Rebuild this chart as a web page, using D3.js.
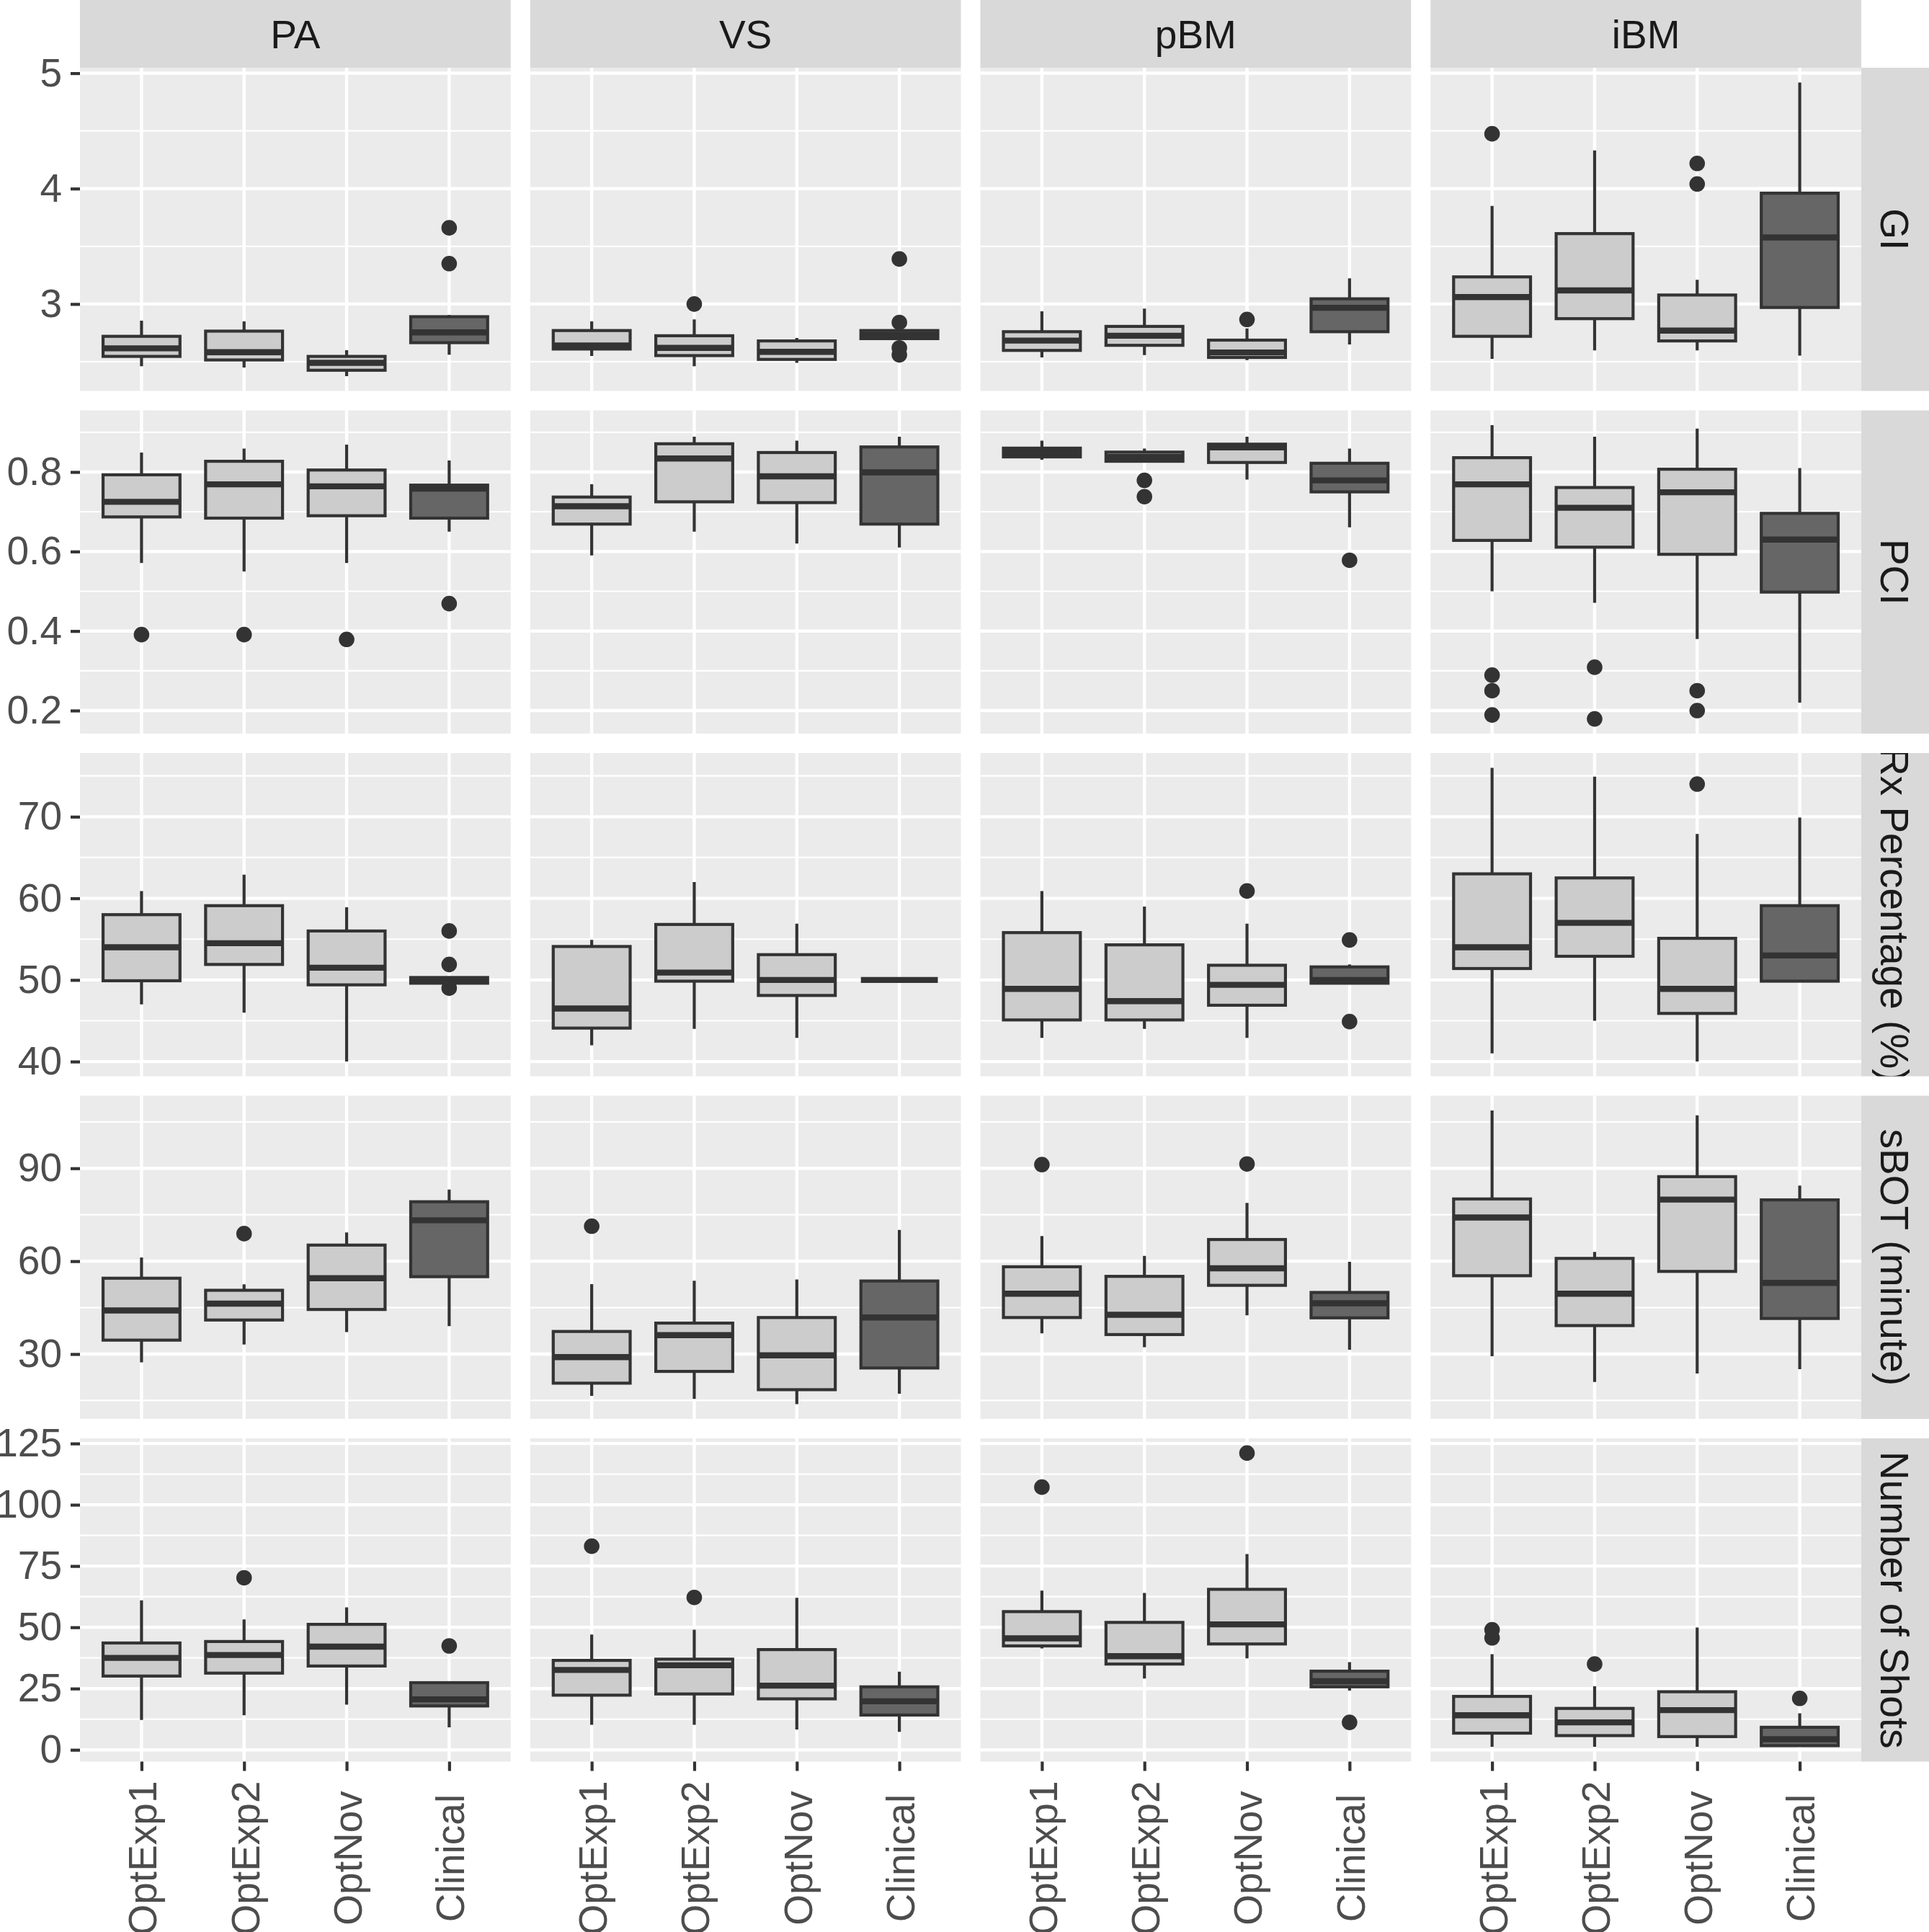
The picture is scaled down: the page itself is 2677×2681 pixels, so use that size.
<!DOCTYPE html>
<html lang="en">
<head>
  <meta charset="UTF-8">
  <title>Boxplots by site and metric</title>
  <script src="https://d3js.org/d3.v7.min.js"></script>
  <style>
    body { margin: 0; background: #fff; }
    svg { display: block; font-family: "Liberation Sans", Arial, sans-serif; }
  </style>
</head>
<body>
  <svg width="2677" height="2681"></svg>
  <script>
    const groups = ["OptExp1", "OptExp2", "OptNov", "Clinical"];
    const sites = ["PA", "VS", "pBM", "iBM"];
    const metrics = ["GI", "PCI", "Rx Percentage (%)", "sBOT (minute)", "Number of Shots"];
    const yTicks = [
      [3, 4, 5],
      [0.2, 0.4, 0.6, 0.8],
      [40, 50, 60, 70],
      [30, 60, 90],
      [0, 25, 50, 75, 100, 125]
    ];
    const tickFormats = [d3.format("d"), d3.format(".1f"), d3.format("d"), d3.format("d"), d3.format("d")];

    // each box: [lower whisker, q1, median, q3, upper whisker], per site then per group
    const giStats = [
      [[2.46, 2.546, 2.616, 2.72, 2.855], [2.45, 2.515, 2.582, 2.765, 2.85], [2.374, 2.426, 2.49, 2.546, 2.60], [2.56, 2.665, 2.754, 2.89, 2.906]],
      [[2.55, 2.61, 2.64, 2.77, 2.85], [2.46, 2.553, 2.62, 2.725, 2.866], [2.49, 2.52, 2.585, 2.68, 2.705], [2.70, 2.70, 2.73, 2.77, 2.77]],
      [[2.537, 2.598, 2.683, 2.76, 2.937], [2.558, 2.642, 2.725, 2.806, 2.96], [2.513, 2.537, 2.58, 2.687, 2.788], [2.65, 2.76, 2.967, 3.045, 3.223]],
      [[2.524, 2.72, 3.06, 3.235, 3.85], [2.598, 2.873, 3.118, 3.61, 4.33], [2.598, 2.68, 2.77, 3.078, 3.21], [2.553, 2.97, 3.577, 3.96, 4.92]]
    ];
    const giOutliers = [
      [[], [], [], [3.35, 3.66]],
      [[], [3.0], [], [2.56, 2.62, 2.84, 3.39]],
      [[], [], [2.866], []],
      [[4.475], [], [4.04, 4.218], []]
    ];

    const pciStats = [
      [[0.571, 0.687, 0.725, 0.793, 0.849], [0.55, 0.684, 0.769, 0.827, 0.859], [0.571, 0.69, 0.764, 0.805, 0.869], [0.65, 0.684, 0.758, 0.767, 0.829]],
      [[0.59, 0.669, 0.714, 0.737, 0.769], [0.65, 0.725, 0.834, 0.871, 0.889], [0.62, 0.723, 0.789, 0.849, 0.879], [0.61, 0.669, 0.799, 0.863, 0.889]],
      [[0.831, 0.838, 0.849, 0.86, 0.879], [0.827, 0.827, 0.838, 0.85, 0.859], [0.781, 0.824, 0.862, 0.87, 0.889], [0.661, 0.75, 0.779, 0.822, 0.859]],
      [[0.5, 0.628, 0.769, 0.836, 0.918], [0.471, 0.611, 0.71, 0.761, 0.889], [0.38, 0.593, 0.749, 0.807, 0.909], [0.22, 0.498, 0.63, 0.696, 0.81]]
    ];
    const pciOutliers = [
      [[0.391], [0.391], [0.379], [0.469]],
      [[], [], [], []],
      [[], [0.738, 0.779], [], [0.578]],
      [[0.189, 0.25, 0.289], [0.179, 0.309], [0.2, 0.25], []]
    ];

    const rxStats = [
      [[47.0, 49.9, 54.0, 58.0, 60.9], [46.0, 51.9, 54.5, 59.1, 62.9], [40.0, 49.4, 51.5, 56.0, 58.9], [49.6, 49.6, 50.0, 50.3, 50.3]],
      [[42.0, 44.1, 46.5, 54.1, 54.9], [44.0, 49.85, 50.9, 56.8, 62.0], [42.9, 48.1, 50.0, 53.1, 56.9], [50.0, 50.0, 50.0, 50.0, 50.0]],
      [[42.9, 45.1, 48.9, 55.8, 60.9], [44.0, 45.1, 47.4, 54.3, 59.0], [42.9, 46.9, 49.4, 51.8, 56.9], [49.6, 49.6, 50.0, 51.6, 51.9]],
      [[41.0, 51.4, 54.0, 63.0, 76.0], [45.0, 52.9, 57.0, 62.5, 74.9], [40.0, 45.9, 48.9, 55.1, 67.9], [49.85, 49.85, 53.0, 59.1, 69.9]]
    ];
    const rxOutliers = [
      [[], [], [], [49.0, 51.9, 56.0]],
      [[], [], [], []],
      [[], [], [60.9], [44.9, 54.9]],
      [[], [], [74.0], []]
    ];

    const sbotStats = [
      [[27.3, 34.5, 44.1, 54.5, 61.2], [33.1, 41.0, 46.3, 50.6, 52.5], [37.1, 44.4, 54.5, 65.2, 69.3], [39.0, 55.0, 73.2, 79.2, 83.1]],
      [[16.5, 20.6, 29.0, 37.3, 52.6], [15.5, 24.4, 36.1, 40.0, 53.7], [13.8, 18.5, 29.6, 41.8, 54.1], [17.2, 25.5, 41.8, 53.6, 70.1]],
      [[36.7, 41.8, 49.5, 58.2, 68.1], [32.2, 36.3, 42.7, 55.1, 61.7], [42.5, 52.2, 57.7, 67.0, 78.8], [31.4, 41.7, 46.4, 49.9, 59.8]],
      [[29.3, 55.3, 74.1, 80.1, 108.7], [21.0, 39.2, 49.5, 60.9, 63.0], [23.7, 56.7, 79.9, 87.3, 107.1], [25.1, 41.5, 53.0, 79.8, 84.4]]
    ];
    const sbotOutliers = [
      [[], [68.9], [], []],
      [[71.3], [], [], []],
      [[91.2], [], [91.4], []],
      [[], [], [], []]
    ];

    const shotStats = [
      [[12.2, 30.1, 37.5, 43.6, 61.0], [14.1, 31.3, 38.7, 44.2, 53.2], [18.4, 34.2, 42.1, 51.2, 58.1], [9.2, 17.9, 20.6, 27.4, 28.0]],
      [[10.2, 22.3, 32.6, 36.5, 47.0], [10.2, 22.8, 34.5, 37.0, 49.0], [8.3, 20.8, 26.2, 40.9, 62.0], [7.3, 14.2, 19.8, 25.7, 31.9]],
      [[41.4, 42.4, 45.5, 56.4, 65.0], [29.1, 35.0, 38.2, 52.0, 64.0], [37.3, 43.2, 51.2, 65.5, 79.9], [24.2, 25.7, 28.0, 32.1, 35.8]],
      [[1.2, 6.8, 14.1, 21.8, 39.0], [1.2, 5.8, 11.2, 16.9, 25.9], [1.2, 5.4, 16.2, 23.7, 49.9], [1.2, 1.7, 4.3, 9.2, 14.9]]
    ];
    const shotOutliers = [
      [[], [70.2], [], [42.4]],
      [[83.1], [62.2], [], []],
      [[107.2], [], [121.1], [11.2]],
      [[45.7, 49.0], [35.0], [], [21.0]]
    ];

    const allStats = [giStats, pciStats, rxStats, sbotStats, shotStats];
    const allOutliers = [giOutliers, pciOutliers, rxOutliers, sbotOutliers, shotOutliers];

    const svg = d3.select("svg");
    const marginLeft = 111, stripTop = 94;
    const panelW = 597.75, panelH = 448.5, gap = 27;
    const stripRight = 94;
    const fontSize = 55;
    const lineW = 4.2;

    const colX = sites.map((_, i) => marginLeft + i * (panelW + gap));
    const rowY = metrics.map((_, i) => stripTop + i * (panelH + gap));
    const stripX = colX[sites.length - 1] + panelW;

    const x = d3.scalePoint().domain(groups).range([0, panelW]).padding(0.6);
    const boxW = x.step() * 0.75;
    const fillFor = g => g === "Clinical" ? "#666666" : "#cccccc";

    // one y scale per row (free scales), with 5% expansion like ggplot
    const yScales = allStats.map((stats, r) => {
      const vals = stats.flat(2).concat(allOutliers[r].flat(2));
      const [lo, hi] = d3.extent(vals);
      const pad = (hi - lo) * 0.05;
      return d3.scaleLinear().domain([lo - pad, hi + pad]).range([panelH, 0]);
    });

    metrics.forEach((metric, r) => {
      const y = yScales[r];
      const ticks = yTicks[r];
      const step = ticks[1] - ticks[0];
      const [dlo, dhi] = y.domain();
      const minors = d3.range(ticks[0] - step / 2, ticks[ticks.length - 1] + step, step)
        .filter(v => v > dlo && v < dhi);

      sites.forEach((site, c) => {
        const g = svg.append("g").attr("transform", `translate(${colX[c]},${rowY[r]})`);

        g.append("rect").attr("width", panelW).attr("height", panelH).attr("fill", "#ebebeb");

        g.selectAll(".minor").data(minors).join("line")
          .attr("class", "minor")
          .attr("x1", 0).attr("x2", panelW)
          .attr("y1", d => y(d)).attr("y2", d => y(d))
          .attr("stroke", "#fff").attr("stroke-width", 2.2);

        g.selectAll(".major").data(ticks).join("line")
          .attr("class", "major")
          .attr("x1", 0).attr("x2", panelW)
          .attr("y1", d => y(d)).attr("y2", d => y(d))
          .attr("stroke", "#fff").attr("stroke-width", 4.4);

        g.selectAll(".vgrid").data(groups).join("line")
          .attr("class", "vgrid")
          .attr("x1", d => x(d)).attr("x2", d => x(d))
          .attr("y1", 0).attr("y2", panelH)
          .attr("stroke", "#fff").attr("stroke-width", 4.4);

        const boxes = groups.map((grp, k) => ({ grp, s: allStats[r][c][k], out: allOutliers[r][c][k] }));

        // outliers
        boxes.forEach(b => {
          g.selectAll(null).data(b.out).join("circle")
            .attr("cx", x(b.grp)).attr("cy", d => y(d))
            .attr("r", 10.8).attr("fill", "#333333");
        });

        // whiskers
        g.selectAll(".whisk").data(boxes).join("path")
          .attr("class", "whisk")
          .attr("d", b => `M${x(b.grp)},${y(b.s[0])}V${y(b.s[1])}M${x(b.grp)},${y(b.s[3])}V${y(b.s[4])}`)
          .attr("stroke", "#333333").attr("stroke-width", lineW).attr("fill", "none");

        // boxes
        g.selectAll(".box").data(boxes).join("rect")
          .attr("class", "box")
          .attr("x", b => x(b.grp) - boxW / 2)
          .attr("width", boxW)
          .attr("y", b => y(b.s[3]))
          .attr("height", b => y(b.s[1]) - y(b.s[3]))
          .attr("fill", b => fillFor(b.grp))
          .attr("stroke", "#333333").attr("stroke-width", lineW);

        // medians
        g.selectAll(".med").data(boxes).join("line")
          .attr("class", "med")
          .attr("x1", b => x(b.grp) - boxW / 2).attr("x2", b => x(b.grp) + boxW / 2)
          .attr("y1", b => y(b.s[2])).attr("y2", b => y(b.s[2]))
          .attr("stroke", "#333333").attr("stroke-width", lineW * 2);

        // y axis on first column
        if (c === 0) {
          const ax = svg.append("g")
            .attr("transform", `translate(${colX[0]},${rowY[r]})`)
            .call(d3.axisLeft(y).tickValues(ticks).tickFormat(tickFormats[r]).tickSize(13).tickPadding(12));
          ax.select(".domain").remove();
          ax.selectAll(".tick line").attr("stroke", "#333333").attr("stroke-width", lineW);
          ax.selectAll(".tick text").attr("fill", "#4d4d4d")
            .style("font-size", fontSize + "px").style("font-family", "Liberation Sans, Arial, sans-serif");
        }

        // x axis under last row
        if (r === metrics.length - 1) {
          const ax = svg.append("g")
            .attr("transform", `translate(${colX[c]},${rowY[r] + panelH})`)
            .call(d3.axisBottom(x).tickSize(13));
          ax.select(".domain").remove();
          ax.selectAll(".tick line").attr("stroke", "#333333").attr("stroke-width", lineW);
          ax.selectAll(".tick text")
            .attr("fill", "#4d4d4d")
            .style("font-size", fontSize + "px").style("font-family", "Liberation Sans, Arial, sans-serif")
            .attr("transform", "rotate(-90)")
            .attr("text-anchor", "middle")
            .attr("x", -134).attr("y", 0).attr("dy", "0.37em");
        }
      });

      // right strip
      const clipId = "strip-clip-" + r;
      svg.append("clipPath").attr("id", clipId)
        .append("rect").attr("x", stripX).attr("y", rowY[r]).attr("width", stripRight).attr("height", panelH);
      svg.append("rect")
        .attr("x", stripX).attr("y", rowY[r]).attr("width", stripRight).attr("height", panelH)
        .attr("fill", "#d9d9d9");
      svg.append("g").attr("clip-path", `url(#${clipId})`)
        .append("text")
        .attr("transform", `translate(${stripX + stripRight / 2},${rowY[r] + panelH / 2}) rotate(90)`)
        .attr("text-anchor", "middle").attr("dy", "0.36em")
        .attr("fill", "#1a1a1a").style("font-size", fontSize + "px")
        .text(metric);
    });

    // top strips
    sites.forEach((site, c) => {
      svg.append("rect")
        .attr("x", colX[c]).attr("y", 0).attr("width", panelW).attr("height", stripTop)
        .attr("fill", "#d9d9d9");
      svg.append("text")
        .attr("x", colX[c] + panelW / 2).attr("y", stripTop / 2)
        .attr("text-anchor", "middle").attr("dy", "0.37em")
        .attr("fill", "#1a1a1a").style("font-size", fontSize + "px")
        .text(site);
    });
  </script>
</body>
</html>
